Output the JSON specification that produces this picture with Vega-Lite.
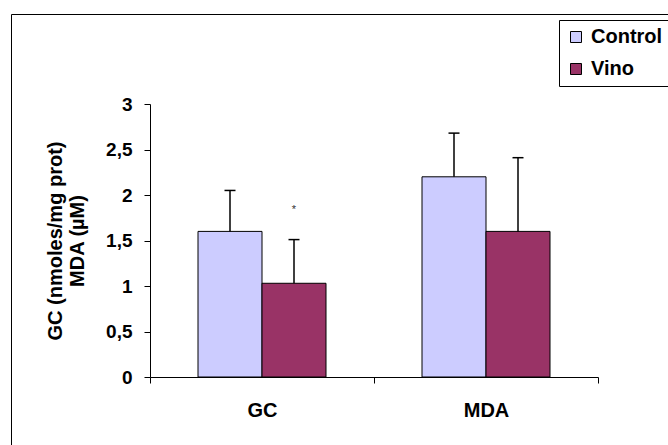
{
  "$schema": "https://vega.github.io/schema/vega-lite/v6.json",
  "width": 657,
  "height": 431,
  "autosize": {"type": "none"},
  "padding": {"left": 11, "top": 14, "right": 0, "bottom": 0},
  "background": "white",
  "config": {
    "font": "Liberation Sans",
    "view": {"stroke": "black", "strokeWidth": 1},
    "axis": {
      "grid": false,
      "domainColor": "black",
      "tickColor": "black",
      "labelColor": "black",
      "titleColor": "black",
      "labelFontWeight": "bold",
      "titleFontWeight": "bold",
      "labelFont": "Liberation Sans",
      "titleFont": "Liberation Sans"
    },
    "legend": {
      "labelFont": "Liberation Sans",
      "labelFontWeight": "bold"
    }
  },
  "datasets": {
    "bars": [
      {"category": "GC", "group": "Control", "value": 1.60, "upper": 2.05},
      {"category": "GC", "group": "Vino", "value": 1.03, "upper": 1.51},
      {"category": "MDA", "group": "Control", "value": 2.20, "upper": 2.68},
      {"category": "MDA", "group": "Vino", "value": 1.60, "upper": 2.41}
    ],
    "marks": [
      {"category": "GC", "group": "Vino", "y": 1.83, "label": "*"}
    ]
  },
  "encoding": {
    "x": {
      "field": "category",
      "type": "nominal",
      "sort": ["GC", "MDA"],
      "scale": {"domain": ["GC", "MDA"], "range": [139, 587], "paddingInner": 0, "paddingOuter": 0},
      "axis": {
        "title": null,
        "labelFontSize": 20,
        "labelAngle": 0,
        "tickBand": "extent",
        "tickSize": 6,
        "labelPadding": 17,
        "offset": -68
      }
    },
    "xOffset": {
      "field": "group",
      "type": "nominal",
      "scale": {"domain": ["Control", "Vino"], "paddingInner": 0, "paddingOuter": 0.75}
    }
  },
  "layer": [
    {
      "data": {"name": "bars"},
      "mark": {"type": "bar", "stroke": "black", "strokeWidth": 1},
      "encoding": {
        "y": {
          "field": "value",
          "type": "quantitative",
          "scale": {"domain": [0, 3], "range": [363, 90], "nice": false, "zero": true},
          "axis": {
            "title": ["GC (nmoles/mg prot)", "MDA (µM)"],
            "values": [0, 0.5, 1, 1.5, 2, 2.5, 3],
            "labelExpr": "replace(format(datum.value, '~g'), '.', ',')",
            "labelFontSize": 19,
            "labelPadding": 12,
            "tickSize": 6,
            "offset": -139,
            "titleFontSize": 20,
            "titlePadding": 18,
            "titleLineHeight": 22
          }
        },
        "color": {
          "field": "group",
          "type": "nominal",
          "scale": {"domain": ["Control", "Vino"], "range": ["#CCCCFF", "#993366"]},
          "legend": {
            "title": null,
            "orient": "none",
            "legendX": 548,
            "legendY": 6,
            "strokeColor": "black",
            "fillColor": "white",
            "padding": 7,
            "rowPadding": 12,
            "symbolType": "square",
            "symbolSize": 121,
            "symbolStrokeColor": "black",
            "symbolStrokeWidth": 1,
            "symbolOpacity": 1,
            "labelFontSize": 20,
            "labelOffset": 5,
            "labelColor": "black"
          }
        }
      }
    },
    {
      "data": {"name": "bars"},
      "mark": {"type": "rule", "color": "black", "strokeWidth": 1.5},
      "encoding": {
        "y": {"field": "value", "type": "quantitative"},
        "y2": {"field": "upper"}
      }
    },
    {
      "data": {"name": "bars"},
      "mark": {"type": "tick", "orient": "horizontal", "size": 11, "thickness": 1.5, "color": "black", "opacity": 1},
      "encoding": {
        "y": {"field": "upper", "type": "quantitative"}
      }
    },
    {
      "data": {"name": "marks"},
      "mark": {"type": "text", "fontSize": 11, "color": "#333333", "baseline": "middle"},
      "encoding": {
        "y": {"field": "y", "type": "quantitative"},
        "text": {"field": "label"}
      }
    }
  ]
}
